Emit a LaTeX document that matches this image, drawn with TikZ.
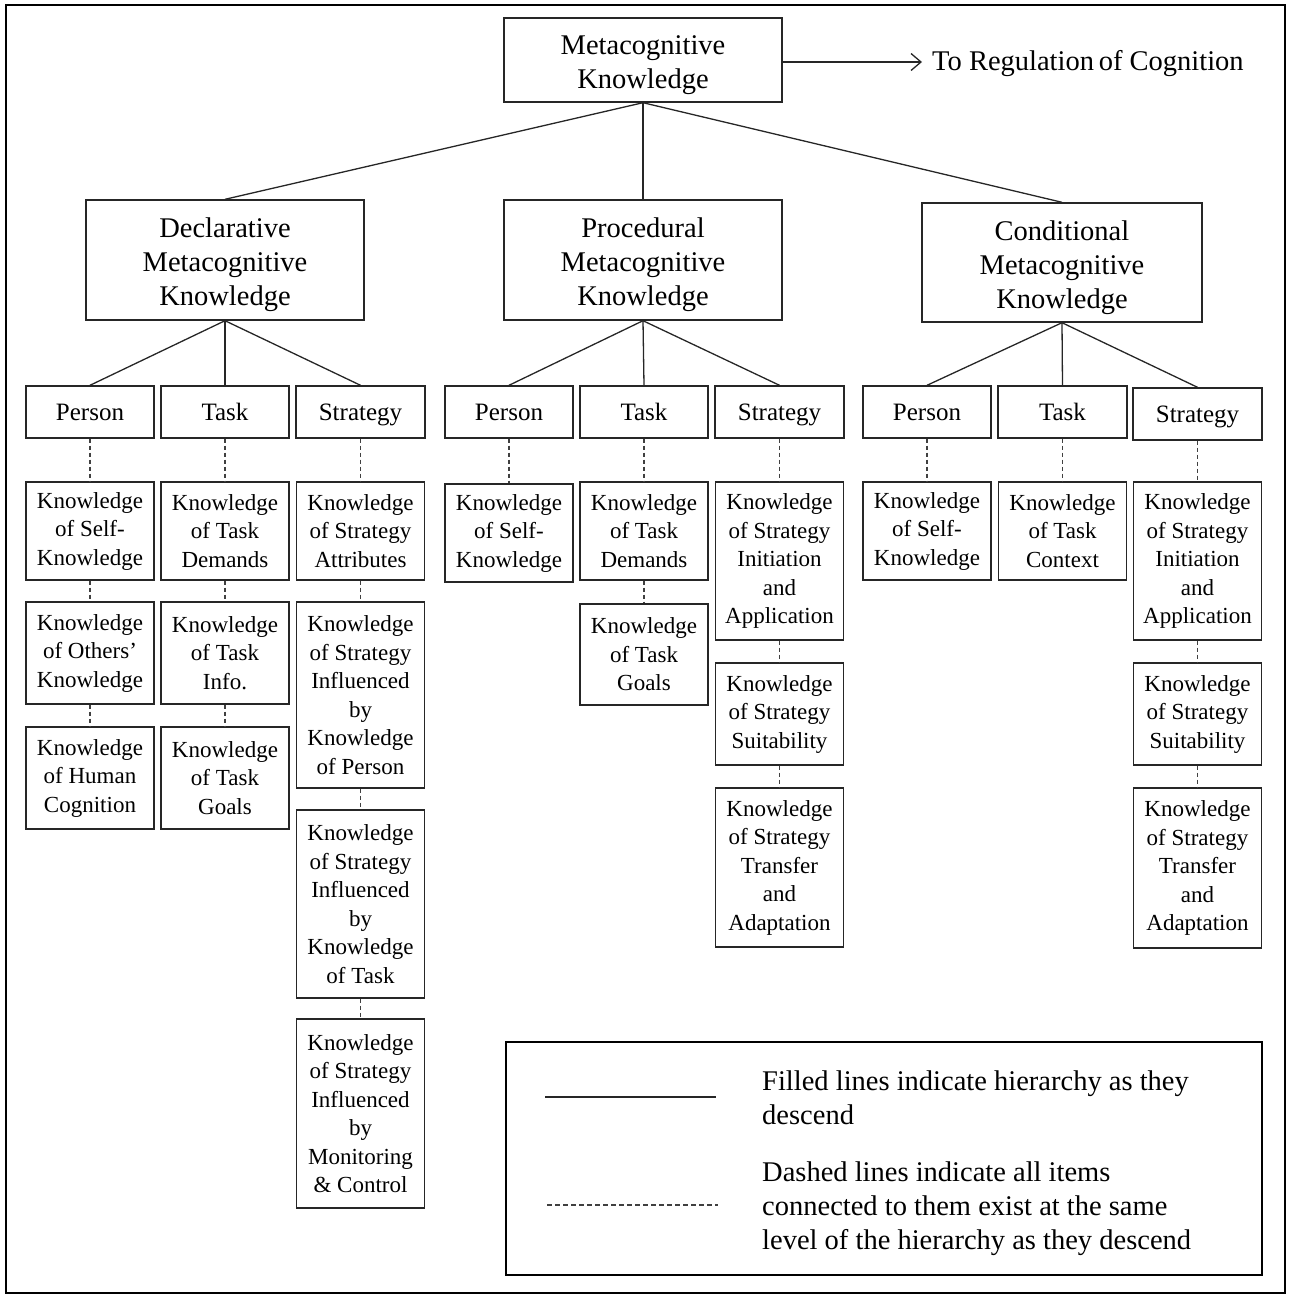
\documentclass[tikz,border=0pt]{standalone}
\usepackage{fontspec}
\setmainfont{Liberation Serif}
\usetikzlibrary{arrows.meta}

\begin{document}
\begin{tikzpicture}[x=1pt,y=-1pt,
    big/.style={font=\fontsize{28.5}{34}\selectfont},
    bigbox/.style={box,big},
    mid/.style={font=\fontsize{25}{30}\selectfont,text height=22pt,text depth=5.5pt},
    box/.style={draw=black!85,line width=1.4pt,align=center,inner sep=0pt},
    kbox/.style={box,minimum width=128,font=\fontsize{23}{28.5}\selectfont},
    tree/.style={draw=black!85,line width=1.3pt},
    same/.style={draw=black!75,line width=1.2pt,dash pattern=on 4pt off 3pt}]
      % Knowledge box: name, centre, height, text
      \newcommand\kbox[4]{
        \node[kbox,minimum height=#3] (#1) at (#2) {#4};
      }
      % Same-level link
      \newcommand\dline[2]{
        \draw[same] (#1.south) -- (#2.north);
      }
      % Top strut for the large boxes
      \newcommand\tstrut{\rule{0pt}{30pt}}
      % Page and frame
      \useasboundingbox (0,0) rectangle (1290,1299);
      \draw[line width=1.8pt] (6,5) rectangle (1285,1293);

      % Root
      \node[bigbox,minimum width=278,minimum height=84] (meta) at (643,60) {\tstrut Metacognitive\\Knowledge};
      \node[big,anchor=west,inner sep=0pt] (reg) at (932,64) {To Regulation\,of Cognition};
      \draw[tree,-{Straight Barb[length=10pt,width=17pt]}] ([yshift=-2pt]meta.east) -- ([xshift=-10pt,yshift=2pt]reg.west);

      % Three kinds
      \node[bigbox,minimum width=278,minimum height=120] (decl) at (225,260) {\tstrut Declarative\\Metacognitive\\Knowledge};
      \node[bigbox,minimum width=278,minimum height=120] (proc) at (643,260) {\tstrut Procedural\\Metacognitive\\Knowledge};
      \node[bigbox,minimum width=280,minimum height=119] (cond) at (1062,262.5) {\tstrut Conditional\\Metacognitive\\Knowledge};
      \draw[tree] (meta.south) -- (decl.north);
      \draw[tree] (meta.south) -- (proc.north);
      \draw[tree] (meta.south) -- (cond.north);

      % Person, task, strategy
      \node[box,mid,minimum width=128,minimum height=52] (dper) at (90,412) {Person};
      \node[box,mid,minimum width=128,minimum height=52] (dtask) at (225,412) {Task};
      \node[box,mid,minimum width=129,minimum height=52] (dstr) at (360.5,412) {Strategy};
      \node[box,mid,minimum width=128,minimum height=52] (pper) at (509,412) {Person};
      \node[box,mid,minimum width=128,minimum height=52] (ptask) at (644,412) {Task};
      \node[box,mid,minimum width=129,minimum height=52] (pstr) at (779.5,412) {Strategy};
      \node[box,mid,minimum width=128,minimum height=52] (cper) at (927,412) {Person};
      \node[box,mid,minimum width=129,minimum height=52] (ctask) at (1062.5,412) {Task};
      \node[box,mid,minimum width=129,minimum height=52] (cstr) at (1197.5,414) {Strategy};
      \foreach \k/\s in {decl/dper,decl/dtask,decl/dstr,proc/pper,proc/ptask,proc/pstr,cond/cper,cond/ctask,cond/cstr}
        \draw[tree] (\k.south) -- (\s.north);

      % Declarative items
      \kbox{dp1}{90,531}{98}{Knowledge\\of Self-\\Knowledge}
      \kbox{dp2}{90,653}{102}{Knowledge\\of Others’\\Knowledge}
      \kbox{dp3}{90,778}{102}{Knowledge\\of Human\\Cognition}
      \kbox{dt1}{225,531}{98}{Knowledge\\of Task\\Demands}
      \kbox{dt2}{225,653}{102}{Knowledge\\of Task\\Info.}
      \kbox{dt3}{225,778}{102}{Knowledge\\of Task\\Goals}
      \kbox{ds1}{360.5,531}{98}{Knowledge\\of Strategy\\Attributes}
      \kbox{ds2}{360.5,695}{186}{Knowledge\\of Strategy\\Influenced\\by\\Knowledge\\of Person}
      \kbox{ds3}{360.5,904}{188}{Knowledge\\of Strategy\\Influenced\\by\\Knowledge\\of Task}
      \kbox{ds4}{360.5,1113.5}{189}{Knowledge\\of Strategy\\Influenced\\by\\Monitoring\\\& Control}

      % Procedural items
      \kbox{pp1}{509,533}{98}{Knowledge\\of Self-\\Knowledge}
      \kbox{pt1}{644,531}{98}{Knowledge\\of Task\\Demands}
      \kbox{pt2}{644,654.5}{101}{Knowledge\\of Task\\Goals}
      \kbox{ps1}{779.5,561}{158}{Knowledge\\of Strategy\\Initiation\\and\\Application}
      \kbox{ps2}{779.5,714}{102}{Knowledge\\of Strategy\\Suitability}
      \kbox{ps3}{779.5,867.5}{159}{Knowledge\\of Strategy\\Transfer\\and\\Adaptation}

      % Conditional items
      \kbox{cp1}{927,531}{98}{Knowledge\\of Self-\\Knowledge}
      \kbox{ct1}{1062.5,531}{98}{Knowledge\\of Task\\Context}
      \kbox{cs1}{1197.5,561}{158}{Knowledge\\of Strategy\\Initiation\\and\\Application}
      \kbox{cs2}{1197.5,714}{102}{Knowledge\\of Strategy\\Suitability}
      \kbox{cs3}{1197.5,868}{160}{Knowledge\\of Strategy\\Transfer\\and\\Adaptation}

      % Dashed links
      \dline{dper}{dp1} \dline{dp1}{dp2} \dline{dp2}{dp3}
      \dline{dtask}{dt1} \dline{dt1}{dt2} \dline{dt2}{dt3}
      \dline{dstr}{ds1} \dline{ds1}{ds2} \dline{ds2}{ds3} \dline{ds3}{ds4}
      \dline{pper}{pp1}
      \dline{ptask}{pt1} \dline{pt1}{pt2}
      \dline{pstr}{ps1} \dline{ps1}{ps2} \dline{ps2}{ps3}
      \dline{cper}{cp1}
      \dline{ctask}{ct1}
      \dline{cstr}{cs1} \dline{cs1}{cs2} \dline{cs2}{cs3}

      % Legend
      \node[draw,line width=2.2pt,minimum width=756,minimum height=233,inner sep=0pt] (legend) at (884,1158.5) {};
      \draw[tree] (545,1097) -- (716,1097);
      \draw[same,dash pattern=on 5pt off 3pt] (547,1205) -- (718,1205);
      \node[big,anchor=west,align=left,inner sep=0pt] (fillnote) at (762,1098) {Filled lines indicate hierarchy as they\\descend};
      \node[big,anchor=west,align=left,inner sep=0pt] (dashnote) at (762,1209) {Dashed lines indicate all items\\connected to them exist at the same\\level of the hierarchy as they descend};
    \end{tikzpicture}
\end{document}
